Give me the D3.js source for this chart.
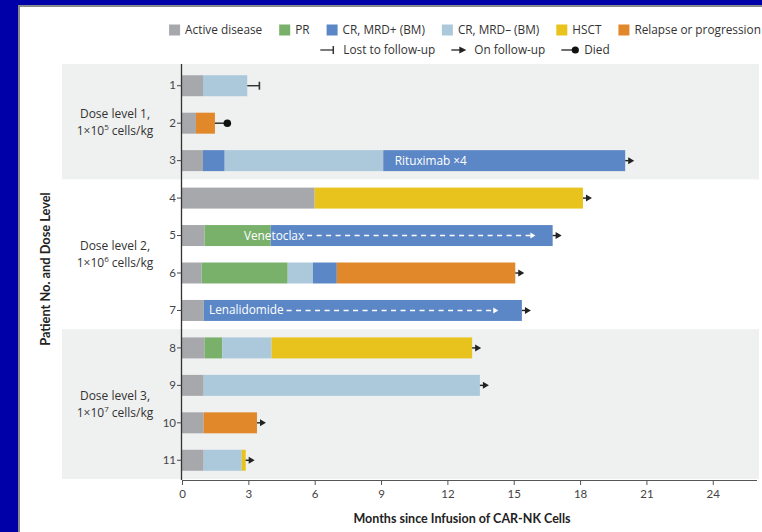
<!DOCTYPE html>
<html><head><meta charset="utf-8">
<script src="https://cdn.jsdelivr.net/npm/d3@7"></script>
<style>
html,body{margin:0;padding:0;background:#0000a8;}
svg{display:block;font-family:"Open Sans",sans-serif;}
</style></head>
<body>
<svg id="chart" width="762" height="532"></svg>
<script>
// ---- data ----
const patients = ["1","2","3","4","5","6","7","8","9","10","11"];
const stateNames = ["Active disease","PR","CR, MRD+ (BM)","CR, MRD\u2013 (BM)","HSCT","Relapse or progression"];
const stateColors = ["#a7a8ac","#79b06a","#5b87c6","#abc9db","#e8c31e","#e1892a"];
// each patient's course: [state index, month at which the phase ends]
const timelines = [
  [[0,0.95],[3,2.95]],
  [[0,0.63],[5,1.49]],
  [[0,0.95],[2,1.93],[3,9.1],[2,20.04]],
  [[0,6.0],[4,18.13]],
  [[0,1.02],[1,4.01],[2,16.76]],
  [[0,0.89],[1,4.78],[3,5.92],[2,7.0],[5,15.07]],
  [[0,0.98],[2,15.37]],
  [[0,1.02],[1,1.82],[3,4.05],[4,13.12]],
  [[0,0.98],[3,13.47]],
  [[0,0.98],[5,3.39]],
  [[0,0.98],[3,2.70],[4,2.88]]
];
const outcomes = ["lost","died","follow","follow","follow","follow","follow","follow","follow","follow","follow"];
const outcomeMonths = [3.5,2.05,null,null,null,null,null,null,null,null,null];
const doseLabels = ["Dose level 1,","Dose level 2,","Dose level 3,"];
const doseExponents = ["5","6","7"];
const doseMembers = [["1","2","3"],["4","5","6","7"],["8","9","10","11"]];
const doseShaded = [true,false,true];
const annotPatients = ["3","5","7"];
const annotTexts = ["Rituximab \u00d74","Venetoclax","Lenalidomide"];
const annotStart = [9.62,2.8,1.22];
const annotArrowEnd = [null,15.98,14.3];
const xTicks = [0,3,6,9,12,15,18,21,24];
const outcomeLegend = ["Lost to follow-up","On follow-up","Died"];
const xTitle = "Months since Infusion of CAR-NK Cells";
const yTitle = "Patient No. and Dose Level";

// ---- drawing ----
const svg = d3.select("#chart");
svg.append("rect").attr("x",19).attr("y",6).attr("width",745).attr("height",530)
  .attr("fill","#ffffff").attr("stroke","#8a8a8a").attr("stroke-width",2);

const x = d3.scaleLinear().domain([0,26]).range([182,757]);
const y = d3.scaleBand().domain(patients).range([67,479]).paddingInner(0.44).paddingOuter(0.22);
const step = y.step(), bw = y.bandwidth(), gapHalf = (step-bw)/2;

// dose group bands
doseMembers.forEach((m,i)=>{
  const top = i===0 ? 64 : y(m[0]) - gapHalf;
  const bot = y(m[m.length-1]) + bw + gapHalf;
  if(doseShaded[i]) svg.append("rect").attr("x",62).attr("y",top).attr("width",697).attr("height",bot-top).attr("fill","#eff0f0");
  const cy = (top+bot)/2;
  const t = svg.append("text").attr("x",115).attr("text-anchor","middle").attr("font-size",12).attr("fill","#333");
  t.append("tspan").attr("x",115).attr("y",cy-4).text(doseLabels[i]);
  const l2 = t.append("tspan").attr("x",115).attr("y",cy+13);
  l2.append("tspan").text("1\u00d710");
  l2.append("tspan").attr("font-size",8).attr("dy",-5).text(doseExponents[i]);
  l2.append("tspan").attr("dy",5).text(" cells/kg");
});

// bars
const g = svg.append("g");
timelines.forEach((segs,i)=>{
  const p = patients[i];
  let start = 0;
  segs.forEach(([s,end])=>{
    g.append("rect").attr("x",x(start)).attr("y",y(p)).attr("width",x(end)-x(start)).attr("height",bw)
      .attr("fill",stateColors[s]);
    start = end;
  });
});

// outcome markers
function drawMarker(sel, type, x0, x1, cy){
  if(type==="follow"){
    sel.append("line").attr("x1",x0).attr("x2",x0+4).attr("y1",cy).attr("y2",cy).attr("stroke","#222").attr("stroke-width",1.4);
    sel.append("path").attr("d",`M${x0+3},${cy-3.5}L${x0+9},${cy}L${x0+3},${cy+3.5}Z`).attr("fill","#222");
  } else if(type==="lost"){
    sel.append("line").attr("x1",x0).attr("x2",x1).attr("y1",cy).attr("y2",cy).attr("stroke","#333").attr("stroke-width",1.4);
    sel.append("line").attr("x1",x1).attr("x2",x1).attr("y1",cy-4).attr("y2",cy+4).attr("stroke","#333").attr("stroke-width",1.6);
  } else {
    sel.append("line").attr("x1",x0).attr("x2",x1).attr("y1",cy).attr("y2",cy).attr("stroke","#222").attr("stroke-width",1.4);
    sel.append("circle").attr("cx",x1).attr("cy",cy).attr("r",3.8).attr("fill","#111");
  }
}
timelines.forEach((segs,i)=>{
  const p = patients[i];
  const endM = segs[segs.length-1][1];
  const cy = y(p)+bw/2;
  drawMarker(g, outcomes[i], x(endM), outcomeMonths[i]!=null ? x(outcomeMonths[i]) : null, cy);
});

// annotations
annotPatients.forEach((p,i)=>{
  const cy = y(p)+bw/2;
  const t = g.append("text").attr("x",x(annotStart[i])).attr("y",cy+4).attr("font-size",11.8)
    .attr("fill","#ffffff").text(annotTexts[i]);
  if(annotArrowEnd[i]!=null){
    const tx = x(annotStart[i]) + t.node().getComputedTextLength() + 3;
    const xe = x(annotArrowEnd[i]);
    g.append("line").attr("x1",tx).attr("x2",xe-4).attr("y1",cy).attr("y2",cy)
      .attr("stroke","#ffffff").attr("stroke-width",1.5).attr("stroke-dasharray","5,4.5");
    g.append("path").attr("d",`M${xe-5},${cy-3}L${xe},${cy}L${xe-5},${cy+3}Z`).attr("fill","#ffffff");
  }
});

// axes
const xAxis = svg.append("g").attr("transform","translate(0,480)")
  .call(d3.axisBottom(x).tickValues(xTicks).tickSize(5).tickSizeOuter(0));
xAxis.select(".domain").attr("stroke","#555").attr("d","M182,0.5H757");
xAxis.selectAll(".tick line").attr("stroke","#555");
xAxis.selectAll(".tick text").attr("font-size",11.5).attr("fill","#444").attr("dy","0.85em")
  .attr("font-family","Lato");

const yAxis = svg.append("g").attr("transform","translate(182,0)")
  .call(d3.axisLeft(y).tickSize(5).tickSizeOuter(0));
yAxis.select(".domain").attr("d","M-0.5,64V480").attr("stroke","#333").attr("stroke-width",1.3);
yAxis.selectAll(".tick line").attr("stroke","#444");
yAxis.selectAll(".tick text").attr("font-size",11.5).attr("fill","#444").attr("x",-6)
  .attr("font-family","Lato");

// titles
svg.append("text").attr("x",462).attr("y",523).attr("text-anchor","middle").attr("font-size",12.5)
  .attr("font-family","Lato").attr("font-weight","bold").attr("fill","#222").text(xTitle);
svg.append("text").attr("transform","translate(50,269) rotate(-90)").attr("text-anchor","middle")
  .attr("font-family","Lato").attr("font-size",12.8).attr("font-weight","bold").attr("fill","#222").text(yTitle);

// legend row 1
const leg1 = svg.append("g");
let lx = 0;
stateNames.forEach((n,i)=>{
  leg1.append("rect").attr("x",lx).attr("y",-5.5).attr("width",11).attr("height",11).attr("fill",stateColors[i]);
  const t = leg1.append("text").attr("x",lx+16).attr("y",4.3).attr("font-size",11.8).attr("fill","#333").text(n);
  lx += 16 + t.node().getComputedTextLength() + 17;
});
lx -= 17;
leg1.attr("transform",`translate(${465-lx/2},30)`);

// legend row 2
const leg2 = svg.append("g");
let l2 = 0;
outcomeLegend.forEach((n,i)=>{
  const type = ["lost","follow","died"][i];
  const mk = leg2.append("g");
  if(type==="follow"){
    mk.append("line").attr("x1",l2).attr("x2",l2+10).attr("y1",0).attr("y2",0).attr("stroke","#222").attr("stroke-width",1.3);
    mk.append("path").attr("d",`M${l2+8},-3.5L${l2+15},0L${l2+8},3.5Z`).attr("fill","#222");
  } else if(type==="lost"){
    mk.append("line").attr("x1",l2).attr("x2",l2+13).attr("y1",0).attr("y2",0).attr("stroke","#333").attr("stroke-width",1.3);
    mk.append("line").attr("x1",l2+13).attr("x2",l2+13).attr("y1",-4).attr("y2",4).attr("stroke","#333").attr("stroke-width",1.5);
  } else {
    mk.append("line").attr("x1",l2).attr("x2",l2+14).attr("y1",0).attr("y2",0).attr("stroke","#222").attr("stroke-width",1.3);
    mk.append("circle").attr("cx",l2+14).attr("cy",0).attr("r",3.6).attr("fill","#111");
  }
  const t = leg2.append("text").attr("x",l2+23).attr("y",4.3).attr("font-size",11.8).attr("fill","#333").text(n);
  l2 += 23 + t.node().getComputedTextLength() + 16;
});
l2 -= 16;
leg2.attr("transform",`translate(${465-l2/2},50)`);
</script>
</body></html>
